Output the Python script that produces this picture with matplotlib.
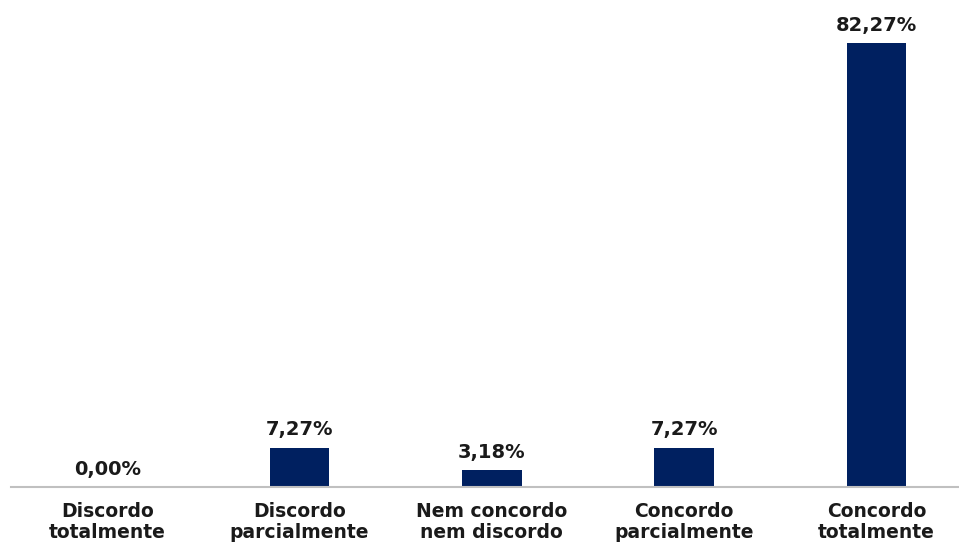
import matplotlib.pyplot as plt

categorias = ["Discordo\ntotalmente", "Discordo\nparcialmente", "Nem concordo\nnem discordo",
              "Concordo\nparcialmente", "Concordo\ntotalmente"]
valores = [0.00, 7.27, 3.18, 7.27, 82.27]
rotulos = ["0,00%", "7,27%", "3,18%", "7,27%", "82,27%"]

fig = plt.figure(figsize=(9.59, 5.47), dpi=100)
ax = fig.add_axes([11 / 959, 1 - 487 / 547, 1 - 11 / 959, 487 / 547])

x = range(len(categorias))
ax.bar(x, valores, width=0.31, color="#002060")

for i, v in enumerate(valores):
    ax.annotate(rotulos[i], (i, v), xytext=(0, 6), textcoords="offset points",
                ha="center", va="bottom", fontsize=14, fontweight="bold", color="#1a1a1a")

ax.set_xlim(-0.5, 4.43)
ax.set_ylim(0, 90.24)
ax.set_xticks(list(x))
ax.set_xticklabels(categorias, fontsize=13.5, fontweight="bold", color="#1a1a1a", linespacing=1.1)
ax.tick_params(axis="x", length=0, pad=11)
ax.set_yticks([])
for s in ["top", "right", "left"]:
    ax.spines[s].set_visible(False)
ax.spines["bottom"].set_color("#c0c0c0")
ax.spines["bottom"].set_linewidth(1.5)

fig.savefig("out.png", dpi=100)
